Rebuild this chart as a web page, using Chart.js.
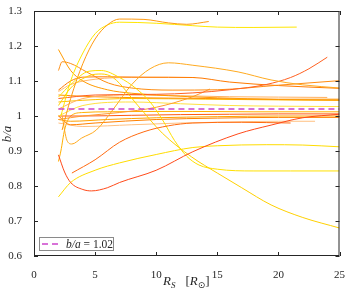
<!DOCTYPE html>
<html><head><meta charset="utf-8">
<script src="https://cdn.jsdelivr.net/npm/chart.js@4/dist/chart.umd.min.js"></script>
<style>html,body{margin:0;padding:0;background:#fff;}canvas{display:block;}</style>
</head><body>
<canvas id="c" width="350" height="291"></canvas>
<script>
// ---- data (x = R_S in R_sun, y = b/a) ----
const xTicks = [0, 5, 10, 15, 20, 25];
const yTicks = [0.6, 0.7, 0.8, 0.9, 1.0, 1.1, 1.2, 1.3];
const refLevel = 1.02;
const refX = [2, 25];

const c01x = [2.3, 3, 4, 5, 6, 7, 9, 11, 12.5, 14.3];
const c01y = [0.96, 1.05, 1.15, 1.22, 1.26, 1.277, 1.276, 1.266, 1.262, 1.27];
const c02x = [2.2, 3, 4, 5, 6, 7, 10, 13, 15, 18, 21.5];
const c02y = [1.0, 1.1, 1.18, 1.235, 1.26, 1.268, 1.265, 1.258, 1.254, 1.253, 1.254];
const c03x = [2, 2.5, 3, 4, 4.7, 6, 7, 10, 13, 16.7, 19.4, 22, 25];
const c03y = [0.889, 0.84, 0.81, 0.79, 0.786, 0.795, 0.81, 0.845, 0.898, 0.949, 0.974, 0.995, 1.005];
const c04x = [3.1, 5, 7, 9, 11, 13, 17, 21];
const c04y = [0.837, 0.875, 0.925, 0.955, 0.972, 0.98, 0.982, 0.98];
const c05x = [2.3, 2.7, 3.1, 3.9, 5.1, 6.5, 8, 9.5, 11, 13, 16.7, 19.4, 22, 25];
const c05y = [1.0, 0.93, 0.92, 0.937, 0.96, 1.02, 1.09, 1.135, 1.152, 1.145, 1.126, 1.103, 1.089, 1.08];
const c06x = [2, 3, 5, 7, 10, 13, 15, 19, 22, 25];
const c06y = [0.769, 0.81, 0.845, 0.866, 0.89, 0.91, 0.915, 0.918, 0.917, 0.912];
const c07x = [2, 3, 4.5, 5.5, 6.5, 8.5, 10.5, 12.9, 15, 17, 19.4, 22, 25];
const c07y = [1.03, 1.08, 1.115, 1.12, 1.109, 1.03, 0.951, 0.883, 0.837, 0.795, 0.746, 0.71, 0.68];
const c08x = [2, 3, 4.5, 5.5, 7, 8.3, 9.5, 10.5, 11.5, 12.5, 13.5, 15, 18, 21, 25];
const c08y = [1.054, 1.09, 1.128, 1.13, 1.11, 1.08, 1.04, 0.99, 0.93, 0.885, 0.86, 0.848, 0.843, 0.843, 0.843];
const c09x = [2, 5, 10, 13, 16, 19, 21, 22.5, 24];
const c09y = [1.05, 1.06, 1.062, 1.066, 1.075, 1.09, 1.11, 1.135, 1.168];
const c10x = [2, 3, 4, 6, 8, 11, 15, 20, 25];
const c10y = [1.19, 1.13, 1.1, 1.075, 1.065, 1.058, 1.052, 1.047, 1.045];
const c11x = [2, 2.3, 3, 4.3, 6.1, 8, 11.3, 15, 20, 25];
const c11y = [1.13, 1.155, 1.15, 1.126, 1.094, 1.08, 1.074, 1.075, 1.088, 1.101];
const c12x = [2, 3, 4, 6, 9, 13, 16, 20, 25];
const c12y = [1.074, 1.1, 1.111, 1.112, 1.111, 1.11, 1.097, 1.087, 1.079];
const c13x = [2, 3, 5, 8, 11, 13.2];
const c13y = [1.07, 1.09, 1.105, 1.11, 1.11, 1.11];
const c14x = [2, 4, 7, 10, 12.9, 14.4];
const c14y = [0.99, 1.0, 1.01, 1.025, 1.054, 1.077];
const c15x = [2, 4, 8, 12, 16, 20, 24];
const c15y = [1.02, 1.05, 1.06, 1.058, 1.055, 1.054, 1.053];
const c16x = [2, 4, 8, 12, 16, 20, 25];
const c16y = [1.0, 1.03, 1.04, 1.035, 1.03, 1.028, 1.027];
const c17x = [2, 4, 8, 12, 16, 20, 25];
const c17y = [1.0, 1.0, 1.002, 1.004, 1.005, 1.006, 1.006];
const c18x = [2, 3, 6, 10, 15, 20, 25];
const c18y = [0.99, 0.985, 0.99, 0.995, 0.998, 1.0, 1.0];
const c19x = [2, 3, 5, 10, 15, 20, 25];
const c19y = [1.0, 0.975, 0.98, 0.99, 0.994, 0.996, 0.996];
const c20x = [2, 4, 8, 12, 16, 20, 23];
const c20y = [0.98, 0.97, 0.975, 0.98, 0.983, 0.985, 0.985];
const c21x = [2, 3, 5, 9, 14, 20, 25];
const c21y = [1.06, 1.058, 1.055, 1.052, 1.05, 1.048, 1.048];
const c22x = [2, 4, 8, 14, 20, 25];
const c22y = [1.04, 1.045, 1.05, 1.048, 1.046, 1.045];
const c23x = [2, 2.2, 2.5, 3, 4, 6, 9, 13, 18, 25];
const c23y = [0.87, 0.9, 0.96, 1.0, 1.01, 1.012, 1.013, 1.013, 1.012, 1.012];

const curveXs = [c01x,c02x,c03x,c04x,c05x,c06x,c07x,c08x,c09x,c10x,c11x,c12x,c13x,c14x,c15x,c16x,c17x,c18x,c19x,c20x,c21x,c22x,c23x];
const curveYs = [c01y,c02y,c03y,c04y,c05y,c06y,c07y,c08y,c09y,c10y,c11y,c12y,c13y,c14y,c15y,c16y,c17y,c18y,c19y,c20y,c21y,c22y,c23y];
const curveColors = ['#ff9a10','#ffe600','#ff4a1a','#ff6a10','#ffaa20','#ffdc00','#ffd000','#ffe000','#ff6020','#ff9a00',
  '#ff8c10','#ff7a00','#ffb870','#ff9a30','#ffb060','#ffe040','#ff5a10','#ffa000','#ff8000','#ffc080','#ff9000','#ffc000','#ffb000'];

const datasets = [{
  data: refX.map(x => ({x, y: refLevel})),
  borderColor: '#cc44cc', borderWidth: 1.5, borderDash: [6, 4], pointRadius: 0, showLine: true
}];
curveXs.forEach((xs, i) => {
  datasets.push({
    data: xs.map((x, j) => ({x, y: curveYs[i][j]})),
    borderColor: curveColors[i], borderWidth: 1, pointRadius: 0, showLine: true,
    cubicInterpolationMode: 'monotone'
  });
});

const FONT = 'Liberation Serif';
const INK = '#262626';

const decor = {
  id: 'decor',
  afterDraw(chart) {
    const {ctx, chartArea: a, scales: {x, y}} = chart;
    ctx.save();
    ctx.strokeStyle = INK; ctx.lineWidth = 1;
    ctx.strokeRect(a.left + 0.5, a.top + 0.5, a.right - a.left - 1, a.bottom - a.top - 1);
    ctx.beginPath();
    const tl = 4;
    xTicks.forEach(v => {
      const px = Math.round(x.getPixelForValue(v)) + 0.5;
      ctx.moveTo(px, a.bottom); ctx.lineTo(px, a.bottom - tl);
      ctx.moveTo(px, a.top); ctx.lineTo(px, a.top + tl);
    });
    yTicks.forEach(v => {
      const py = Math.round(y.getPixelForValue(v)) + 0.5;
      ctx.moveTo(a.left, py); ctx.lineTo(a.left + tl, py);
      ctx.moveTo(a.right, py); ctx.lineTo(a.right - tl, py);
    });
    ctx.stroke();

    // legend box
    const lx = 39, ly = 237, lw = 74, lh = 13;
    ctx.fillStyle = '#fff';
    ctx.fillRect(lx, ly, lw, lh);
    ctx.strokeStyle = '#8a8a8a'; ctx.lineWidth = 1;
    ctx.strokeRect(lx + 0.5, ly + 0.5, lw, lh);
    ctx.strokeStyle = '#cc44cc'; ctx.lineWidth = 1.5; ctx.setLineDash([6, 4]);
    ctx.beginPath(); ctx.moveTo(42, ly + 7); ctx.lineTo(62, ly + 7); ctx.stroke();
    ctx.setLineDash([]);
    ctx.fillStyle = INK; ctx.textBaseline = 'alphabetic'; ctx.textAlign = 'left';
    let tx = 66; const ty = ly + 10.5;
    ctx.font = 'italic 11.5px "' + FONT + '"';
    ctx.fillText('b/a', tx, ty); tx += ctx.measureText('b/a').width;
    ctx.font = '11.5px "' + FONT + '"';
    ctx.fillText(' = 1.02', tx, ty);

    // x title: R_S  [R_sun]
    ctx.font = 'italic 13px "' + FONT + '"';
    let sx = 163; const sy = 285;
    ctx.fillText('R', sx, sy); sx += ctx.measureText('R').width;
    ctx.font = 'italic 9px "' + FONT + '"';
    ctx.fillText('S', sx, sy + 3); sx += ctx.measureText('S').width + 10;
    ctx.font = '13px "' + FONT + '"';
    ctx.fillText('[', sx, sy); sx += ctx.measureText('[').width;
    ctx.font = 'italic 13px "' + FONT + '"';
    ctx.fillText('R', sx, sy); sx += ctx.measureText('R').width;
    ctx.font = '9px "DejaVu Sans"';
    ctx.fillText('\u2299', sx, sy + 3); sx += ctx.measureText('\u2299').width;
    ctx.font = '13px "' + FONT + '"';
    ctx.fillText(']', sx, sy);

    // y title
    ctx.translate(11, 134);
    ctx.rotate(-Math.PI / 2);
    ctx.textAlign = 'center';
    ctx.font = 'italic 13px "' + FONT + '"';
    ctx.fillText('b/a', 0, 0);
    ctx.restore();
  }
};

new Chart(document.getElementById('c'), {
  type: 'scatter',
  data: { datasets },
  options: {
    responsive: false, animation: false, devicePixelRatio: 1,
    layout: { padding: { top: 11, right: 5, left: 0, bottom: 0 } },
    plugins: { legend: { display: false }, tooltip: { enabled: false } },
    scales: {
      x: {
        type: 'linear', min: 0, max: 25,
        afterBuildTicks: s => { s.ticks = xTicks.map(v => ({value: v})); },
        ticks: { color: INK, font: { family: FONT, size: 11 }, padding: 5, maxRotation: 0,
          callback: v => String(v) },
        grid: { display: false }, border: { display: false },
        afterFit: s => { s.height = 35; }
      },
      y: {
        type: 'linear', min: 0.6, max: 1.3,
        afterBuildTicks: s => { s.ticks = yTicks.map(v => ({value: v})); },
        ticks: { color: INK, font: { family: FONT, size: 11 }, padding: 4,
          callback: v => String(Math.round(v * 10) / 10) },
        grid: { display: false }, border: { display: false },
        afterFit: s => { s.width = 34; }
      }
    }
  },
  plugins: [decor]
});
</script>
</body></html>
